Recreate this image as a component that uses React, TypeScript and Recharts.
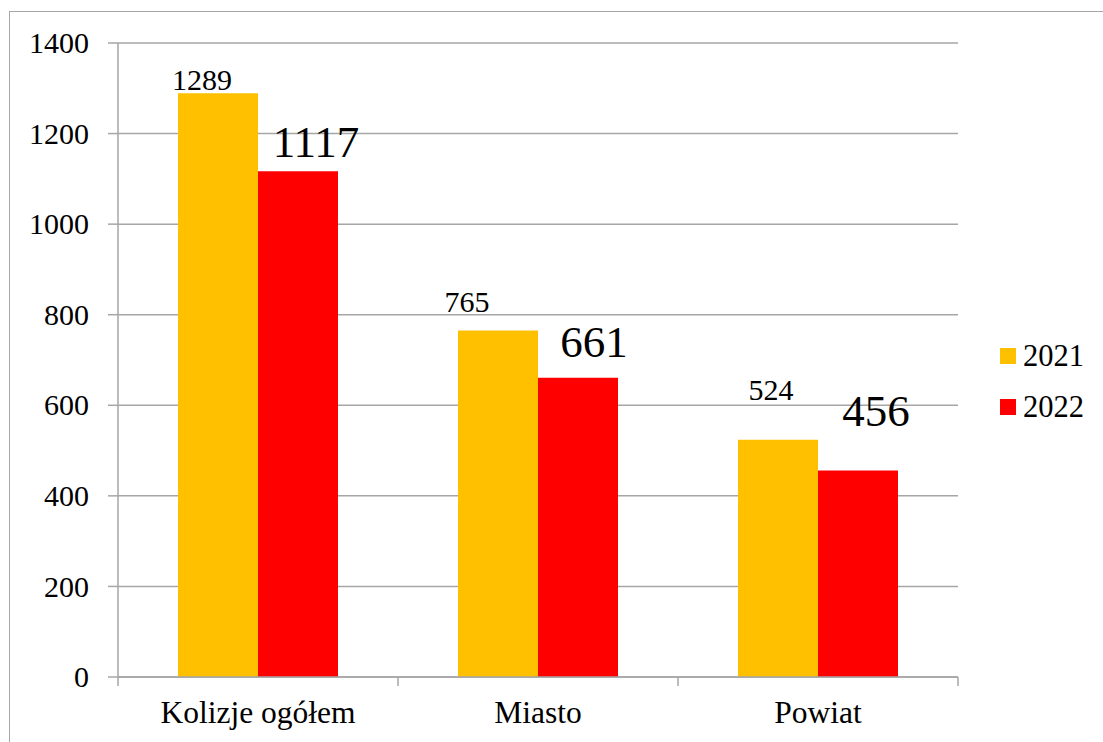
import React from 'react';
import { BarChart, Bar, XAxis, YAxis, CartesianGrid, Legend, LabelList } from 'recharts';

const categories = ['Kolizje ogółem', 'Miasto', 'Powiat'];
const values2021 = [1289, 765, 524];
const values2022 = [1117, 661, 456];
const yTicks = [0, 200, 400, 600, 800, 1000, 1200, 1400];
const seriesNames = ['2021', '2022'];

const data = categories.map((c, i) => ({ name: c, v2021: values2021[i], v2022: values2022[i] }));

const COLORS = ['#FFC000', '#FF0000'];
const GRID = '#a6a6a6';
const FONT = 'Liberation Serif';

const W = 1103;
const H = 742;
const PLOT_LEFT = 118;
const PLOT_RIGHT = 958;
const PLOT_TOP = 43;
const PLOT_BOTTOM = 677;
const BAND = (PLOT_RIGHT - PLOT_LEFT) / categories.length;

// label nudges (manually placed labels in the original): dx from bar centre, gap above bar top
const nudge2021 = [{ dx: -16, gap: 3 }, { dx: -31, gap: 19 }, { dx: -7, gap: 40 }];
const nudge2022 = [{ dx: 18, gap: 14 }, { dx: 16, gap: 21 }, { dx: 18, gap: 44 }];

const makeLabel = (nudges: { dx: number; gap: number }[], size: number) => (props: any) => {
  const { x, y, width, index, value } = props;
  const n = nudges[index] || { dx: 0, gap: 4 };
  return (
    <text
      x={Number(x) + Number(width) / 2 + n.dx}
      y={Number(y) - n.gap}
      textAnchor="middle"
      style={{ fontFamily: FONT, fontSize: size }}
      fill="#000"
    >
      {value}
    </text>
  );
};

const XTick = (props: any) => {
  const { x, y, payload, index } = props;
  return (
    <g>
      <line x1={x - BAND / 2} x2={x - BAND / 2} y1={y} y2={y + 9} stroke={GRID} strokeWidth={1.5} />
      {index === categories.length - 1 && (
        <line x1={x + BAND / 2} x2={x + BAND / 2} y1={y} y2={y + 9} stroke={GRID} strokeWidth={1.5} />
      )}
      <text x={x} y={y + 46} textAnchor="middle" style={{ fontFamily: FONT, fontSize: 31.5 }} fill="#000">
        {payload.value}
      </text>
    </g>
  );
};

const YTick = (props: any) => {
  const { x, y, payload } = props;
  return (
    <text x={x} y={y} dy="0.34em" textAnchor="end" style={{ fontFamily: FONT, fontSize: 30 }} fill="#000">
      {payload.value}
    </text>
  );
};

const LegendContent = () => (
  <div style={{ fontFamily: FONT, fontSize: 30.5, color: '#000' }}>
    {seriesNames.map((s, i) => (
      <div key={s} style={{ display: 'flex', alignItems: 'center', height: 51 }}>
        <div style={{ width: 16, height: 16, background: COLORS[i], marginRight: 7 }} />
        <span style={{ lineHeight: '30px' }}>{s}</span>
      </div>
    ))}
  </div>
);

export default function App() {
  return (
    <div style={{ position: 'absolute', left: 0, top: 0, width: W, height: H, overflow: 'hidden', background: '#fff' }}>
      <div
        style={{
          position: 'absolute',
          left: 9,
          top: 11,
          width: 1300,
          height: 900,
          border: `1.5px solid ${GRID}`,
          boxSizing: 'border-box',
        }}
      />
      <div style={{ position: 'absolute', left: 0, top: 0 }}>
        <BarChart
          width={W}
          height={H}
          data={data}
          margin={{ top: PLOT_TOP, right: W - PLOT_RIGHT, bottom: 0, left: 0 }}
          barCategoryGap={60}
          barGap={0}
        >
          <CartesianGrid vertical={false} stroke={GRID} strokeWidth={1.5} />
          <XAxis
            dataKey="name"
            height={H - PLOT_BOTTOM}
            axisLine={{ stroke: GRID, strokeWidth: 1.5 }}
            tickLine={false}
            tickSize={0}
            tickMargin={0}
            tick={<XTick />}
            interval={0}
          />
          <YAxis
            width={PLOT_LEFT}
            domain={[0, 1400]}
            ticks={yTicks}
            interval={0}
            axisLine={{ stroke: GRID, strokeWidth: 1.5 }}
            tickLine={{ stroke: GRID, strokeWidth: 1.5 }}
            tickSize={10}
            tickMargin={19}
            tick={<YTick />}
          />
          <Legend
            layout="vertical"
            align="center"
            verticalAlign="middle"
            content={<LegendContent />}
            wrapperStyle={{ left: 1000, top: 330, width: 100, bottom: 'auto', right: 'auto' }}
          />
          <Bar dataKey="v2021" name={seriesNames[0]} fill={COLORS[0]} isAnimationActive={false}>
            <LabelList dataKey="v2021" content={makeLabel(nudge2021, 30)} />
          </Bar>
          <Bar dataKey="v2022" name={seriesNames[1]} fill={COLORS[1]} isAnimationActive={false}>
            <LabelList dataKey="v2022" content={makeLabel(nudge2022, 45)} />
          </Bar>
        </BarChart>
      </div>
    </div>
  );
}
